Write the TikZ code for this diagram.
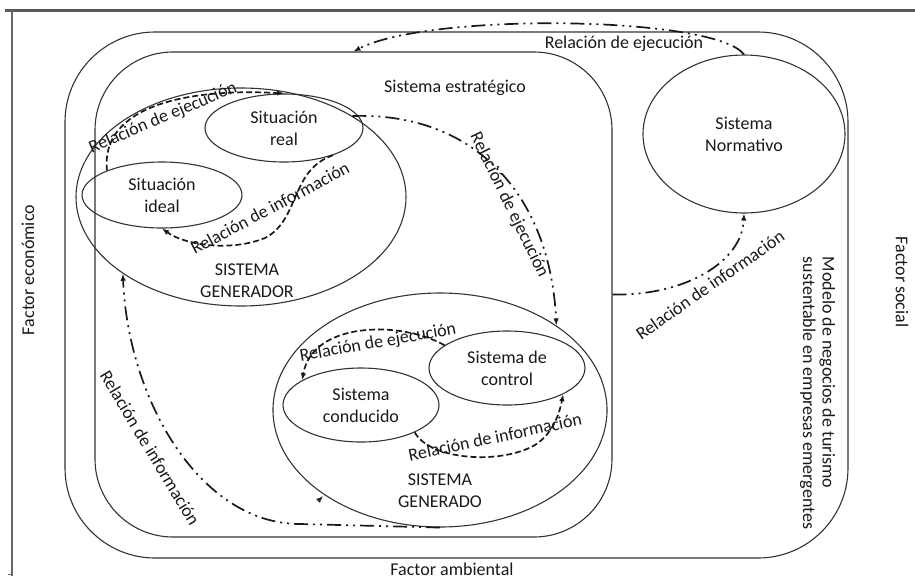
\documentclass[tikz,border=0pt]{standalone}
\usepackage{fontspec}
\setmainfont{Carlito}
\usetikzlibrary{shapes.geometric,arrows.meta}
\begin{document}
\begin{tikzpicture}[x=1pt,y=-1pt,
  every node/.style={font=\fontsize{18}{22}\selectfont, text=black!90},
  oval/.style={draw=black!80, line width=1.1pt, ellipse, inner sep=0pt, align=center},
  frame/.style={draw=black!80, line width=1.1pt, rectangle, inner sep=0pt},
  lbl/.style={inner sep=0pt},
  tip/.style={-{Latex[length=7pt,width=5.5pt]}},
  ejec/.style={line width=1.7pt, dash pattern=on 6pt off 3pt, draw=black!90},
  ddot/.style={line width=1.7pt, dash pattern=on 14pt off 5pt on 2pt off 5pt on 2pt off 5pt, draw=black!90},
]
\useasboundingbox (0,0) rectangle (915,579);

% page frame
\draw[line width=3pt, black!65] (5,10) -- (915,10);
\draw[line width=1.3pt, black!60] (12,10) -- (12,576);
\draw[line width=1pt, black!60] (8,574) -- (12,574);

% outer model and strategic system
\node[frame, rounded corners=90pt, minimum width=783pt, minimum height=526pt] (model) at (456.5,295) {};
\node[frame, rounded corners=78pt, minimum width=517pt, minimum height=485pt] (strat) at (353.5,294.5) {};

% systems
\node[oval, minimum width=330pt, minimum height=218pt] (gen) at (241,197) {};
\node[oval, minimum width=158pt, minimum height=68pt] (real) at (284,128) {Situación\\real};
\node[oval, minimum width=160pt, minimum height=66pt] (ideal) at (162,195) {Situación\\ideal};
\node[oval, minimum width=334pt, minimum height=234pt] (gdo) at (440,410) {};
\node[oval, minimum width=156pt, minimum height=74pt] (cond) at (361,405) {Sistema\\conducido};
\node[oval, minimum width=156pt, minimum height=74pt] (ctrl) at (507,368) {Sistema de\\control};
\node[oval, minimum width=202pt, minimum height=158pt] (norm) at (744,134) {Sistema\\Normativo};

% titles
\node[align=center] (genT) at (247,281) {SISTEMA\\GENERADOR};
\node[align=center] (gdoT) at (440,491) {SISTEMA\\GENERADO};
\node (stratT) at (455,88) {Sistema estratégico};
\node[rotate=90] (fEco) at (28,270) {Factor económico};
\node[rotate=-90] (fSoc) at (902,282) {Factor social};
\node (fAmb) at (452,569) {Factor ambiental};
\node[rotate=-90, align=left, font=\fontsize{18}{19.5}\selectfont] (modelT) at (817.5,393)
  {Modelo de negocios de turismo\\sustentable en empresas emergentes};

% relations between systems
\draw[ddot, tip] (norm.north) .. controls (715,16) and (430,12) .. (strat.north);
\draw[ddot, tip] (gen.36) .. controls (475,112) and (550,195) .. (gdo.36.5);
\draw[ddot, tip] (strat.east) .. controls (685,296) and (742,262) .. (norm.south);
\draw[ddot, tip] (gdo.south) -- (300,524) .. controls (200,524) and (128,400) .. (gen.213.5);
\draw[tip, line width=1pt, black!85] (318,501) -- (323,496);

% relations inside the generating system
\draw[ejec, tip] (ideal.156) .. controls (100,105) and (190,88) .. (real.north);
\draw[ejec, tip] (real.-29) .. controls (290,170) and (300,220) .. (265,238)
  .. controls (230,252) and (185,245) .. (ideal.south);

% relations inside the generated system
\draw[ejec, tip] (ctrl.160) .. controls (400,320) and (312,322) .. (cond.157);
\draw[ejec, tip] (cond.-27) .. controls (430,460) and (500,465) .. (535,445)
  .. controls (555,432) and (560,410) .. (ctrl.-25);

% relation labels
\node[lbl, rotate=23] (l1) at (163,118) {Relación de ejecución};
\node[lbl, rotate=28] (l2) at (270,208) {Relación de información};
\node[lbl, rotate=-64] (l3) at (509,205) {Relación de ejecución};
\node[lbl] (l4) at (624,44) {Relación de ejecución};
\node[lbl, rotate=35] (l5) at (710,285) {Relación de información};
\node[lbl, rotate=-59] (l6) at (150,448) {Relación de información};
\node[lbl, rotate=10] (l7) at (378,343) {Relación de ejecución};
\node[lbl, rotate=12] (l8) at (495,437) {Relación de información};
\end{tikzpicture}
\end{document}
